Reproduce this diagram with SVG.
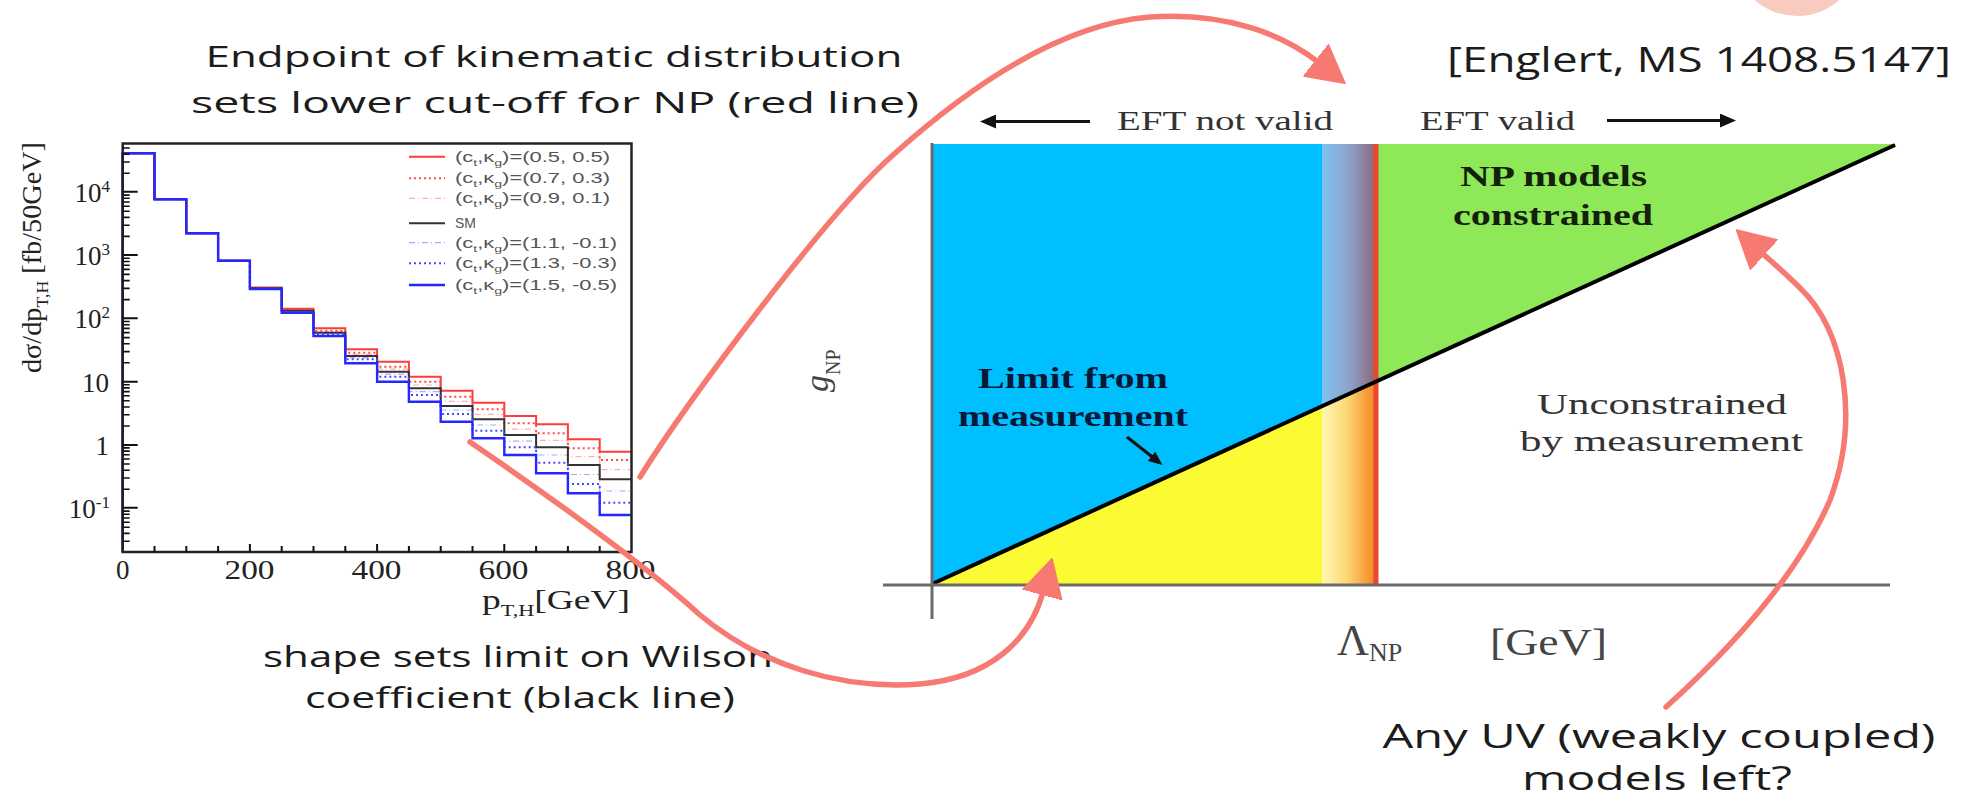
<svg xmlns="http://www.w3.org/2000/svg" width="1961" height="802" viewBox="0 0 1961 802">
<style>
.hand{font-family:"Open Sans","DejaVu Sans",sans-serif;fill:#1c1c1c;}
.ser{font-family:"Liberation Serif","DejaVu Serif",serif;}
.tick{font-family:"Liberation Serif",serif;font-size:27px;fill:#222;}
.leg{font-family:"Liberation Sans",Arial,sans-serif;font-size:14px;fill:#555;}
.red{fill:none;stroke:#ff3b3b;stroke-width:2;}
.redd{fill:none;stroke:#ff4a4a;stroke-width:2;stroke-dasharray:2 3;}
.redl{fill:none;stroke:#ffb0b0;stroke-width:1.2;stroke-dasharray:6 3 1 3;}
.sm{fill:none;stroke:#333;stroke-width:2;}
.bluel{fill:none;stroke:#a8a8ff;stroke-width:1.2;stroke-dasharray:6 3 1 3;}
.blued{fill:none;stroke:#4a4aff;stroke-width:2;stroke-dasharray:2 3;}
.blue{fill:none;stroke:#2626ff;stroke-width:2.4;}
.conn{fill:none;stroke:#f77a72;stroke-width:5.5;stroke-linecap:round;stroke-linejoin:round;}
.ax{stroke:#6b6b6b;stroke-width:3;fill:none;}
.blk{stroke:#111;stroke-width:3;fill:none;}
</style>
<defs>
<marker id="redhead" markerUnits="userSpaceOnUse" viewBox="0 0 38 42" markerWidth="38" markerHeight="42" refX="3" refY="21" orient="auto">
<path d="M0,1 L37,21 L0,41 z" fill="#f77a72" stroke="#f77a72" stroke-width="2" stroke-linejoin="round"/>
</marker>
<marker id="bkhead" markerUnits="userSpaceOnUse" viewBox="0 0 16 14" markerWidth="16" markerHeight="14" refX="2" refY="7" orient="auto">
<path d="M0,0 L16,7 L0,14 z" fill="#111"/>
</marker>
<marker id="bkhead2" markerUnits="userSpaceOnUse" viewBox="0 0 14 12" markerWidth="14" markerHeight="12" refX="2" refY="6" orient="auto">
<path d="M0,0 L14,6 L0,12 z" fill="#111"/>
</marker>
<linearGradient id="gUp" x1="0" y1="0" x2="1" y2="0">
<stop offset="0" stop-color="#7fc2f2"/>
<stop offset="0.5" stop-color="#8da3c9"/>
<stop offset="1" stop-color="#8c6778"/>
</linearGradient>
<linearGradient id="gLow" x1="0" y1="0" x2="1" y2="0">
<stop offset="0" stop-color="#fff8b0"/>
<stop offset="0.45" stop-color="#fcd878"/>
<stop offset="1" stop-color="#f4821e"/>
</linearGradient>
</defs>
<rect width="1961" height="802" fill="#fff"/>

<!-- cut-off element at top right -->
<g id="top-badge">
<circle cx="1797" cy="-48" r="64" fill="#f9cbbf"/>
</g>

<!-- annotation texts -->
<g id="note-endpoint">
<text class="hand" x="554" y="67" font-size="30" text-anchor="middle" textLength="697" lengthAdjust="spacingAndGlyphs">Endpoint of kinematic distribution</text>
<text class="hand" x="555" y="113" font-size="30" text-anchor="middle" textLength="728" lengthAdjust="spacingAndGlyphs">sets lower cut-off for NP (red line)</text>
</g>
<g id="note-ref">
<text class="hand" x="1447" y="72" font-size="34" textLength="504" lengthAdjust="spacingAndGlyphs">[Englert, MS 1408.5147]</text>
</g>
<g id="note-shape">
<text class="hand" x="518" y="667" font-size="29" text-anchor="middle" textLength="510" lengthAdjust="spacingAndGlyphs">shape sets limit on Wilson</text>
<text class="hand" x="520" y="708" font-size="29" text-anchor="middle" textLength="430" lengthAdjust="spacingAndGlyphs">coefficient (black line)</text>
</g>
<g id="note-uv">
<text class="hand" x="1659" y="748" font-size="33" text-anchor="middle" textLength="553" lengthAdjust="spacingAndGlyphs">Any UV (weakly coupled)</text>
<text class="hand" x="1657" y="790" font-size="33" text-anchor="middle" textLength="270" lengthAdjust="spacingAndGlyphs">models left?</text>
</g>

<!-- histogram plot -->
<g id="plot">
<rect x="122.7" y="143.5" width="508.8" height="408.5" fill="#fff"/>
<path class="redl" d="M249.9,288.2 H281.7 V310.1 H313.5 V331.7 H345.3 V354.4 H377.1 V369.2 H408.9 V385 H440.7 V401.4 H472.5 V414.3 H504.3 V429.2 H536.1 V440.3 H567.9 V456.7 H599.7 V469.7 H631.5"/>
<path class="bluel" d="M249.9,288.5 H281.7 V311.4 H313.5 V333.4 H345.3 V357.7 H377.1 V374.2 H408.9 V391.7 H440.7 V410 H472.5 V425 H504.3 V441.2 H536.1 V455 H567.9 V474.5 H599.7 V491 H631.5"/>
<path class="red" d="M122.7,552 V153.3 H154.5 V199.3 H186.3 V233.3 H218.1 V260.7 H249.9 V287.5 H281.7 V308.7 H313.5 V328.3 H345.3 V349.3 H377.1 V361.7 H408.9 V376.7 H440.7 V390.7 H472.5 V402.7 H504.3 V416 H536.1 V424.3 H567.9 V439.3 H599.7 V451.7 H631.5"/>
<path class="redd" d="M122.7,153.3 H154.5 V199.3 H186.3 V233.3 H218.1 V260.7 H249.9 V288 H281.7 V309.5 H313.5 V330.7 H345.3 V352.7 H377.1 V366.7 H408.9 V381.7 H440.7 V396.7 H472.5 V409.3 H504.3 V423.3 H536.1 V433.3 H567.9 V448.3 H599.7 V460 H631.5"/>
<path class="sm" d="M122.7,552 V153.3 H154.5 V199.3 H186.3 V233.3 H218.1 V260.7 H249.9 V288.3 H281.7 V310.7 H313.5 V332.7 H345.3 V356 H377.1 V371.7 H408.9 V388.3 H440.7 V406 H472.5 V419.3 H504.3 V435 H536.1 V447.3 H567.9 V465 H599.7 V479.3 H631.5"/>
<path class="blued" d="M122.7,153.3 H154.5 V199.3 H186.3 V233.3 H218.1 V260.7 H249.9 V288.6 H281.7 V312 H313.5 V334 H345.3 V359.3 H377.1 V376.7 H408.9 V395 H440.7 V414 H472.5 V430.7 H504.3 V447.3 H536.1 V462.7 H567.9 V484 H599.7 V502.7 H631.5"/>
<path class="blue" d="M122.7,552 V153.3 H154.5 V199.3 H186.3 V233.3 H218.1 V260.7 H249.9 V289 H281.7 V312.7 H313.5 V336 H345.3 V363.3 H377.1 V381.7 H408.9 V401.7 H440.7 V421.7 H472.5 V438.3 H504.3 V455 H536.1 V473.3 H567.9 V493.3 H599.7 V515 H631.5"/>
<rect x="122.7" y="143.5" width="508.8" height="408.5" fill="none" stroke="#222" stroke-width="2.5"/>
<path stroke="#111" stroke-width="2" fill="none" d="M122.7,507.7 h15 M122.7,445 h15 M122.7,381.7 h15 M122.7,318.3 h15 M122.7,255 h15 M122.7,191.7 h15"/>
<path stroke="#111" stroke-width="1.6" fill="none" d="M122.7,541.2h7M122.7,533.4h7M122.7,527.2h7M122.7,522.2h7M122.7,518h7M122.7,514.3h7M122.7,511.1h7M122.7,489.2h7M122.7,478h7M122.7,470.2h7M122.7,464h7M122.7,459h7M122.7,454.8h7M122.7,451.1h7M122.7,447.9h7M122.7,426h7M122.7,414.8h7M122.7,407h7M122.7,400.8h7M122.7,395.8h7M122.7,391.6h7M122.7,387.9h7M122.7,384.7h7M122.7,362.8h7M122.7,351.6h7M122.7,343.8h7M122.7,337.6h7M122.7,332.6h7M122.7,328.4h7M122.7,324.7h7M122.7,321.5h7M122.7,299.6h7M122.7,288.4h7M122.7,280.6h7M122.7,274.4h7M122.7,269.4h7M122.7,265.2h7M122.7,261.5h7M122.7,258.3h7M122.7,236.4h7M122.7,225.2h7M122.7,217.4h7M122.7,211.2h7M122.7,206.2h7M122.7,202h7M122.7,198.3h7M122.7,195.1h7M122.7,173.2h7M122.7,162h7M122.7,154.2h7M122.7,148h7"/>
<path stroke="#111" stroke-width="2" fill="none" d="M154.5,552v-6M186.3,552v-6M218.1,552v-6M249.9,552v-8M281.7,552v-6M313.5,552v-6M345.3,552v-6M377.1,552v-8M408.9,552v-6M440.7,552v-6M472.5,552v-6M504.3,552v-8M536.1,552v-6M567.9,552v-6M599.7,552v-6"/>
<text class="tick" x="110" y="201.5" text-anchor="end">10<tspan font-size="17" dy="-10">4</tspan></text>
<text class="tick" x="110" y="264.8" text-anchor="end">10<tspan font-size="17" dy="-10">3</tspan></text>
<text class="tick" x="110" y="328" text-anchor="end">10<tspan font-size="17" dy="-10">2</tspan></text>
<text class="tick" x="109" y="391.5" text-anchor="end">10</text>
<text class="tick" x="109" y="454.7" text-anchor="end">1</text>
<text class="tick" x="110" y="517.5" text-anchor="end">10<tspan font-size="17" dy="-10">-1</tspan></text>
<text class="tick" x="122.7" y="579" text-anchor="middle">0</text>
<text class="tick" x="249.5" y="579" text-anchor="middle" textLength="50" lengthAdjust="spacingAndGlyphs">200</text>
<text class="tick" x="376.5" y="579" text-anchor="middle" textLength="50" lengthAdjust="spacingAndGlyphs">400</text>
<text class="tick" x="503.5" y="579" text-anchor="middle" textLength="50" lengthAdjust="spacingAndGlyphs">600</text>
<text class="tick" x="630.5" y="579" text-anchor="middle" textLength="50" lengthAdjust="spacingAndGlyphs">800</text>
<text class="tick" x="482" y="609" textLength="148" lengthAdjust="spacingAndGlyphs">p<tspan font-size="16" dy="7">T,H</tspan><tspan dy="-7">[GeV]</tspan></text>
<text class="tick" transform="translate(41,373) rotate(-90)" font-size="28" textLength="231" lengthAdjust="spacingAndGlyphs">dσ/dp<tspan font-size="17" dy="7">T,H</tspan><tspan dy="-7"> [fb/50GeV]</tspan></text>
<line class="red" x1="409" y1="156.7" x2="445" y2="156.7"/>
<line class="redd" x1="409" y1="178.3" x2="445" y2="178.3"/>
<line class="redl" x1="409" y1="198.3" x2="445" y2="198.3"/>
<line class="sm" x1="409" y1="223.3" x2="445" y2="223.3"/>
<line class="bluel" x1="409" y1="242.7" x2="445" y2="242.7"/>
<line class="blued" x1="409" y1="263.3" x2="445" y2="263.3"/>
<line class="blue" x1="409" y1="285" x2="445" y2="285"/>
<text class="leg" x="455" y="161.5" textLength="155" lengthAdjust="spacingAndGlyphs">(c<tspan font-size="9" dy="4">t</tspan><tspan dy="-4">,κ</tspan><tspan font-size="9" dy="4">g</tspan><tspan dy="-4">)=(0.5, 0.5)</tspan></text>
<text class="leg" x="455" y="183" textLength="155" lengthAdjust="spacingAndGlyphs">(c<tspan font-size="9" dy="4">t</tspan><tspan dy="-4">,κ</tspan><tspan font-size="9" dy="4">g</tspan><tspan dy="-4">)=(0.7, 0.3)</tspan></text>
<text class="leg" x="455" y="203" textLength="155" lengthAdjust="spacingAndGlyphs">(c<tspan font-size="9" dy="4">t</tspan><tspan dy="-4">,κ</tspan><tspan font-size="9" dy="4">g</tspan><tspan dy="-4">)=(0.9, 0.1)</tspan></text>
<text class="leg" x="455" y="228" font-size="15">SM</text>
<text class="leg" x="455" y="247.5" textLength="162" lengthAdjust="spacingAndGlyphs">(c<tspan font-size="9" dy="4">t</tspan><tspan dy="-4">,κ</tspan><tspan font-size="9" dy="4">g</tspan><tspan dy="-4">)=(1.1, -0.1)</tspan></text>
<text class="leg" x="455" y="268" textLength="162" lengthAdjust="spacingAndGlyphs">(c<tspan font-size="9" dy="4">t</tspan><tspan dy="-4">,κ</tspan><tspan font-size="9" dy="4">g</tspan><tspan dy="-4">)=(1.3, -0.3)</tspan></text>
<text class="leg" x="455" y="289.5" textLength="162" lengthAdjust="spacingAndGlyphs">(c<tspan font-size="9" dy="4">t</tspan><tspan dy="-4">,κ</tspan><tspan font-size="9" dy="4">g</tspan><tspan dy="-4">)=(1.5, -0.5)</tspan></text>
</g>

<!-- EFT validity diagram -->
<g id="eft-diagram">
<polygon points="932,144 1322,144 1322,406.2 932,584" fill="#00bfff"/>
<polygon points="932,584 1322,406.2 1322,584" fill="#fcfa33"/>
<polygon points="1322,144 1376,144 1376,381.6 1322,406.2" fill="url(#gUp)"/>
<polygon points="1322,406.2 1376,381.6 1376,584 1322,584" fill="url(#gLow)"/>
<polygon points="1378,144 1897,144 1378,380.7" fill="#8ee858"/>
<line x1="1376" y1="144" x2="1376" y2="584" stroke="#e8482c" stroke-width="5"/>
<line x1="932" y1="584" x2="1895" y2="145" stroke="#000" stroke-width="4"/>
<line class="ax" x1="932" y1="143" x2="932" y2="619"/>
<line class="ax" x1="883" y1="585" x2="1890" y2="585"/>
<line class="blk" x1="1090" y1="121.5" x2="994" y2="121.5" marker-end="url(#bkhead)"/>
<line class="blk" x1="1607" y1="120.6" x2="1722" y2="120.6" marker-end="url(#bkhead)"/>
<text class="ser" x="1117" y="130" font-size="28" fill="#333" textLength="216" lengthAdjust="spacingAndGlyphs">EFT not valid</text>
<text class="ser" x="1420" y="130" font-size="28" fill="#333" textLength="155" lengthAdjust="spacingAndGlyphs">EFT valid</text>
<text class="ser" x="1460" y="186" font-size="30" font-weight="bold" fill="#13200c" textLength="187" lengthAdjust="spacingAndGlyphs">NP models</text>
<text class="ser" x="1453" y="225" font-size="30" font-weight="bold" fill="#13200c" textLength="200" lengthAdjust="spacingAndGlyphs">constrained</text>
<text class="ser" x="978" y="388" font-size="30" font-weight="bold" fill="#0a1838" textLength="190" lengthAdjust="spacingAndGlyphs">Limit from</text>
<text class="ser" x="958" y="426" font-size="30" font-weight="bold" fill="#0a1838" textLength="230" lengthAdjust="spacingAndGlyphs">measurement</text>
<line x1="1127" y1="437" x2="1153" y2="457.5" stroke="#111" stroke-width="3" marker-end="url(#bkhead2)"/>
<text class="ser" x="1537" y="414" font-size="29" fill="#333" textLength="250" lengthAdjust="spacingAndGlyphs">Unconstrained</text>
<text class="ser" x="1520" y="451" font-size="29" fill="#333" textLength="283" lengthAdjust="spacingAndGlyphs">by measurement</text>
<text class="ser" transform="translate(828,392) rotate(-90)" font-size="34" fill="#444"><tspan font-style="italic">g</tspan><tspan font-size="20" dy="12">NP</tspan></text>
<text class="ser" x="1337" y="655" font-size="44" fill="#444">Λ<tspan font-size="26" dy="6">NP</tspan></text>
<text class="ser" x="1490" y="655" font-size="38" fill="#444" textLength="117" lengthAdjust="spacingAndGlyphs">[GeV]</text>
</g>

<!-- hand-drawn connectors -->
<g id="connectors">
<path class="conn" d="M640,477 C685,405 825,215 893,155 C953,101 1050,25 1150,17 C1230,12 1285,36 1318,62" marker-end="url(#redhead)"/>
<path class="conn" d="M470,442 C540,490 640,560 700,615 C760,665 840,690 920,684 C990,678 1030,640 1043,592" marker-end="url(#redhead)"/>
<path class="conn" d="M1666,707 C1740,640 1800,570 1830,500 C1860,420 1845,330 1800,288 C1785,273 1772,262 1762,253" marker-end="url(#redhead)"/>
</g>
</svg>
